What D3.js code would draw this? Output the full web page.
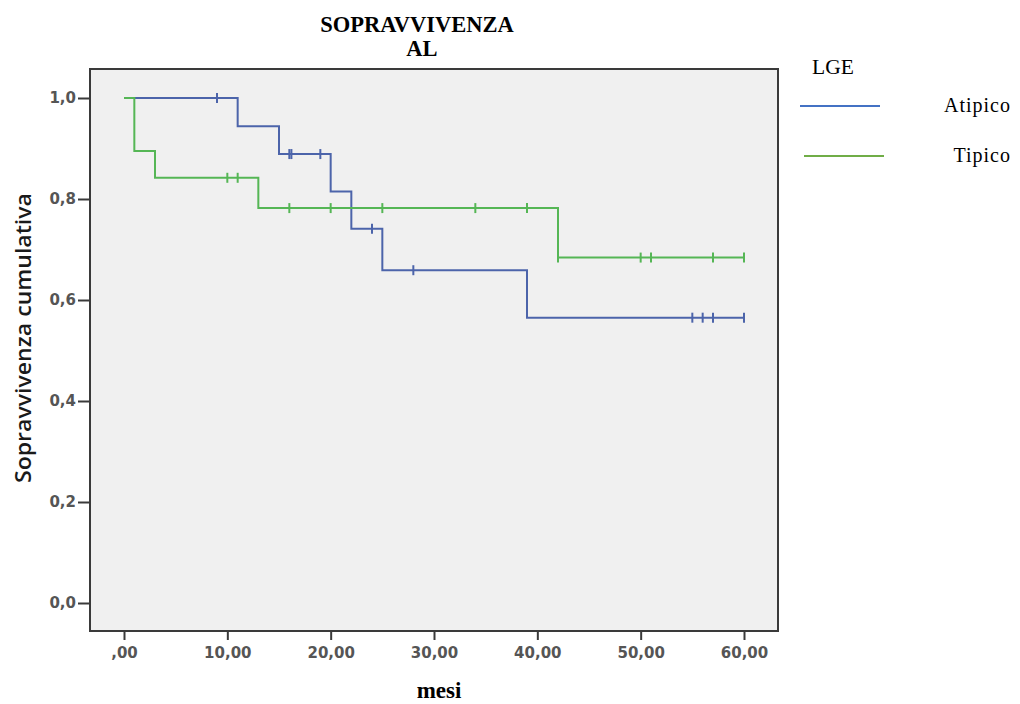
<!DOCTYPE html>
<html>
<head>
<meta charset="utf-8">
<script src="https://cdn.jsdelivr.net/npm/d3@7"></script>
<style>
  body { margin: 0; background: #fff; }
  svg { display: block; }
</style>
</head>
<body>
<div id="chart"></div>
<script>
// Kaplan-Meier steps
const atipicoTimes = [0, 11, 15, 20, 22, 25, 39, 60];
const atipicoSurv = [1.0, 0.944, 0.889, 0.815, 0.741, 0.659, 0.565, 0.565];
const atipicoCensored = [9, 16, 16.2, 19, 24, 28, 55, 56, 57, 60];

const tipicoTimes = [0, 1, 3, 13, 42, 60];
const tipicoSurv = [1.0, 0.895, 0.842, 0.782, 0.684, 0.684];
const tipicoCensored = [10, 11, 16, 20, 25, 34, 39, 42, 50, 51, 57, 60];

const xTicks = [0, 10, 20, 30, 40, 50, 60];
const yTicks = [0, 0.2, 0.4, 0.6, 0.8, 1.0];

const groups = [
  { name: 'Atipico', times: atipicoTimes, surv: atipicoSurv, cens: atipicoCensored, color: '#4c64aa', legend: '#4472c4' },
  { name: 'Tipico', times: tipicoTimes, surv: tipicoSurv, cens: tipicoCensored, color: '#55b655', legend: '#70ad47' }
];

const width = 1020, height = 704;
const box = { left: 90, right: 778, top: 69, bottom: 631 };

const svg = d3.select('#chart').append('svg')
  .attr('width', width)
  .attr('height', height);

const x = d3.scaleLinear().domain([0, 60]).range([124, 744]);
const y = d3.scaleLinear().domain([0, 1]).range([603, 98]);

// plot area
svg.append('rect')
  .attr('x', box.left).attr('y', box.top)
  .attr('width', box.right - box.left).attr('height', box.bottom - box.top)
  .attr('fill', '#f0f0f0')
  .attr('stroke', '#3a3a3a')
  .attr('stroke-width', 2);

const fmtY = d => d3.format('.1f')(d).replace('.', ',');
const fmtX = d => (d === 0 ? '' : d3.format('.2f')(d).split('.')[0]) + ',00';

const yAxis = svg.append('g')
  .attr('transform', 'translate(' + box.left + ',0)')
  .call(d3.axisLeft(y).tickValues(yTicks).tickFormat(fmtY).tickSize(12).tickPadding(2));

const xAxis = svg.append('g')
  .attr('transform', 'translate(0,' + box.bottom + ')')
  .call(d3.axisBottom(x).tickValues(xTicks).tickFormat(fmtX).tickSize(9).tickPadding(7));

[yAxis, xAxis].forEach(g => {
  g.select('.domain').remove();
  g.selectAll('line').attr('stroke', '#3a3a3a').attr('stroke-width', 2);
  g.selectAll('text')
    .attr('fill', '#555')
    .style('font-family', 'DejaVu Sans, Verdana, sans-serif')
    .style('font-weight', 'bold')
    .style('font-size', '15px');
});

// survival curves
const line = d3.line()
  .x(d => x(d[0]))
  .y(d => y(d[1]))
  .curve(d3.curveStepAfter);

function survAt(g, t) {
  let s = g.surv[0];
  g.times.forEach((tt, i) => { if (t >= tt) s = g.surv[i]; });
  return s;
}

groups.forEach(g => {
  const pts = g.times.map((t, i) => [t, g.surv[i]]);
  svg.append('path')
    .datum(pts)
    .attr('fill', 'none')
    .attr('stroke', g.color)
    .attr('stroke-width', 2)
    .attr('d', line);

  svg.selectAll(null)
    .data(g.cens)
    .enter().append('line')
    .attr('x1', d => x(d)).attr('x2', d => x(d))
    .attr('y1', d => y(survAt(g, d)) - 5)
    .attr('y2', d => y(survAt(g, d)) + 5)
    .attr('stroke', g.color)
    .attr('stroke-width', 2);
});

// titles
const serif = 'Liberation Serif, Times New Roman, serif';
svg.append('text')
  .attr('x', 417).attr('y', 32)
  .attr('text-anchor', 'middle')
  .style('font-family', serif).style('font-size', '22.5px').style('font-weight', 'bold')
  .text('SOPRAVVIVENZA');
svg.append('text')
  .attr('x', 422).attr('y', 56)
  .attr('text-anchor', 'middle')
  .style('font-family', serif).style('font-size', '22.5px').style('font-weight', 'bold')
  .text('AL');

svg.append('text')
  .attr('x', 439).attr('y', 698)
  .attr('text-anchor', 'middle')
  .style('font-family', serif).style('font-size', '23px').style('font-weight', 'bold')
  .text('mesi');

svg.append('text')
  .attr('transform', 'translate(31,338) rotate(-90)')
  .attr('text-anchor', 'middle')
  .attr('textLength', 290)
  .attr('lengthAdjust', 'spacingAndGlyphs')
  .style('font-family', 'Open Sans, sans-serif')
  .style('font-size', '21px')
  .style('font-weight', '600')
  .attr('fill', '#1a1a1a')
  .text('Sopravvivenza cumulativa');

// legend
svg.append('text')
  .attr('x', 812).attr('y', 74)
  .style('font-family', serif).style('font-size', '21.5px')
  .text('LGE');

const legendY = [106, 156];
const legendX = [[800, 880], [804, 884]];
groups.forEach((g, i) => {
  svg.append('line')
    .attr('x1', legendX[i][0]).attr('x2', legendX[i][1])
    .attr('y1', legendY[i]).attr('y2', legendY[i])
    .attr('stroke', g.legend).attr('stroke-width', 2);
  svg.append('text')
    .attr('x', 1011).attr('y', legendY[i] + 6)
    .attr('text-anchor', 'end')
    .style('font-family', serif).style('font-size', '20px')
    .style('letter-spacing', '1px')
    .text(g.name);
});
</script>
</body>
</html>
